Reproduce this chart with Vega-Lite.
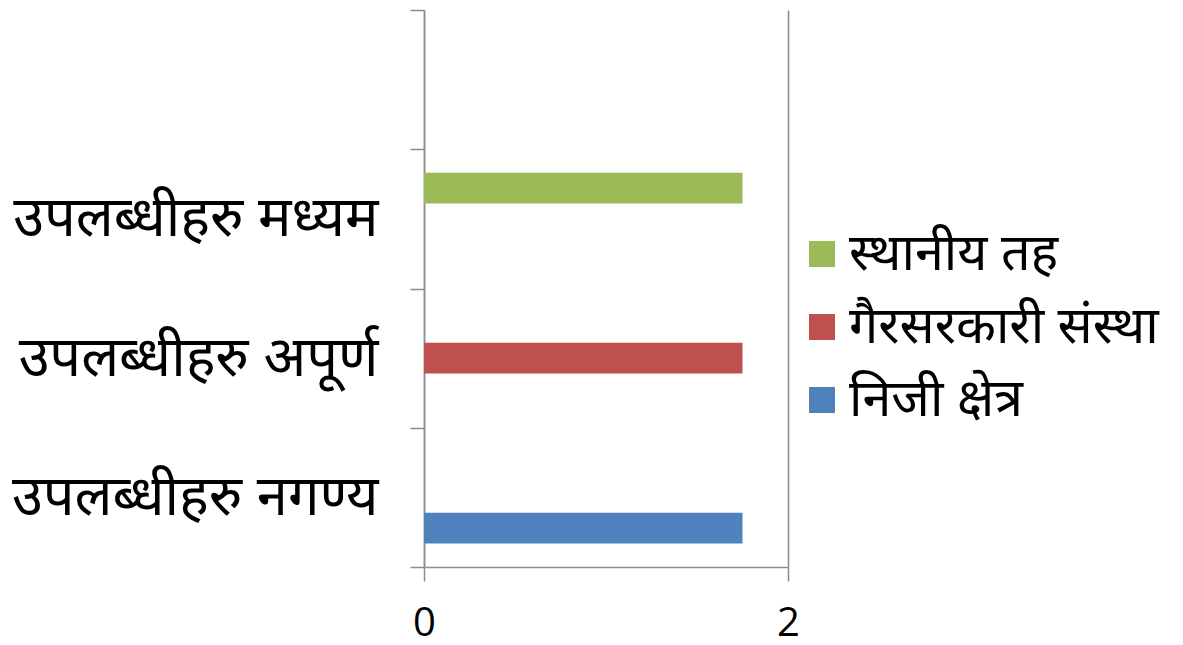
{
  "$schema": "https://vega.github.io/schema/vega-lite/v6.json",
  "autosize": "none",
  "width": 364,
  "height": 557,
  "padding": {"left": 424, "top": 10, "right": 395, "bottom": 78},
  "background": "white",
  "config": {
    "font": "Noto Sans",
    "view": {"stroke": null}
  },
  "data": {
    "values": [
      {"category": "उपलब्धीहरु मध्यम", "series": "स्थानीय तह", "value": 1.75},
      {"category": "उपलब्धीहरु अपूर्ण", "series": "गैरसरकारी संस्था", "value": 1.75},
      {"category": "उपलब्धीहरु नगण्य", "series": "निजी क्षेत्र", "value": 1.75}
    ]
  },
  "mark": {"type": "bar"},
  "encoding": {
    "y": {
      "field": "category",
      "type": "nominal",
      "sort": null,
      "scale": {"domain": [" ", "उपलब्धीहरु मध्यम", "उपलब्धीहरु अपूर्ण", "उपलब्धीहरु नगण्य"], "paddingInner": 0, "paddingOuter": 0},
      "axis": {
        "title": null,
        "tickBand": "extent",
        "tickSize": 14,
        "tickColor": "#8c8c8c",
        "tickWidth": 1.5,
        "domainColor": "#8c8c8c",
        "domainWidth": 1.5,
        "grid": false,
        "labelFontSize": 56,
        "labelColor": "black",
        "labelPadding": 32,
        "labelLimit": 600
      }
    },
    "yOffset": {
      "field": "series",
      "type": "nominal",
      "scale": {"domain": ["स्थानीय तह", "गैरसरकारी संस्था", "निजी क्षेत्र"], "paddingInner": 0, "paddingOuter": 0.768}
    },
    "x": {
      "field": "value",
      "type": "quantitative",
      "scale": {"domain": [0, 2], "nice": false},
      "axis": {
        "title": null,
        "values": [0, 2],
        "labelFlush": false,
        "tickSize": 14,
        "tickColor": "#8c8c8c",
        "tickWidth": 1.5,
        "domainColor": "#8c8c8c",
        "domainWidth": 1.5,
        "grid": true,
        "gridColor": "#8c8c8c",
        "gridWidth": 1.5,
        "gridOpacity": 1,
        "labelFontSize": 40,
        "labelColor": "black",
        "labelPadding": 22,
        "labelFont": "Open Sans"
      }
    },
    "color": {
      "field": "series",
      "type": "nominal",
      "scale": {
        "domain": ["स्थानीय तह", "गैरसरकारी संस्था", "निजी क्षेत्र"],
        "range": ["#9BBB59", "#C0504D", "#4F81BD"]
      },
      "legend": {
        "title": null,
        "orient": "none",
        "legendX": 372,
        "legendY": 218,
        "symbolType": "square",
        "symbolSize": 676,
        "symbolStrokeWidth": 0,
        "labelFontSize": 52,
        "labelColor": "black",
        "labelLimit": 600,
        "labelOffset": 1,
        "rowPadding": 21
      }
    }
  }
}
